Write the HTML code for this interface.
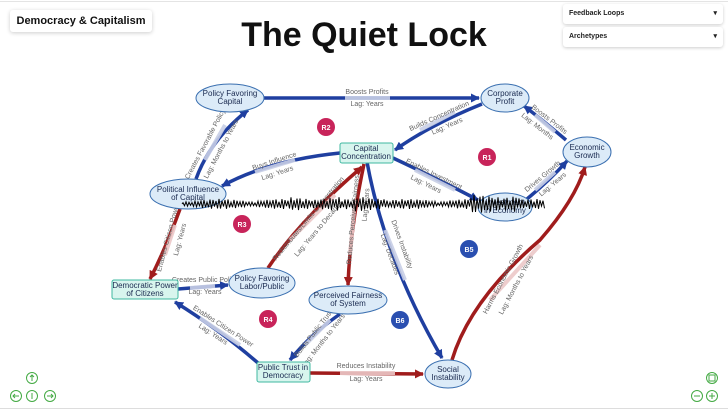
<!DOCTYPE html>
<html><head><meta charset="utf-8"><style>
body{margin:0;width:728px;height:410px;overflow:hidden;background:#fff;font-family:"Liberation Sans",sans-serif;position:relative}
.tag{position:absolute;left:10px;top:10px;width:142px;height:22px;box-shadow:0 1px 4px rgba(0,0,0,.2);border-radius:3px;font-weight:bold;font-size:11px;line-height:22px;text-align:center;color:#111;background:#fff}
.dd{position:absolute;left:563px;width:160px;height:20px;background:#fff;box-shadow:0 1px 3px rgba(0,0,0,.2);border-radius:3px;font-size:7px;font-weight:bold;line-height:20px;padding-left:6px;box-sizing:border-box;color:#222}
.dd span{position:absolute;right:6px;top:0}
h1{position:absolute;top:16px;left:0;width:728px;text-align:center;margin:0;font-size:34px;font-weight:bold;color:#111}
</style></head><body>
<div class="tag">Democracy &amp; Capitalism</div>
<div class="dd" style="top:4px">Feedback Loops<span>▾</span></div>
<div class="dd" style="top:27px">Archetypes<span>▾</span></div>
<h1>The Quiet Lock</h1>
<svg width="728" height="410" style="position:absolute;left:0;top:0" font-family="Liberation Sans, sans-serif">
<defs>
<marker id="ab" markerWidth="9" markerHeight="9" refX="8" refY="4.5" orient="auto" markerUnits="userSpaceOnUse"><path d="M0,0 L9,4.5 L0,9 Z" fill="#1f3fa0"/></marker>
<marker id="ar" markerWidth="9" markerHeight="9" refX="8" refY="4.5" orient="auto" markerUnits="userSpaceOnUse"><path d="M0,0 L9,4.5 L0,9 Z" fill="#a01c1c"/></marker>
</defs>
<line x1="0" y1="1.5" x2="728" y2="1.5" stroke="#e4e4e4"/>
<g fill="none" stroke-width="3.5">
<path d="M263,98 L479,98" stroke="#1f3fa0" marker-end="url(#ab)"/>
<path d="M482,104 Q430,125 395,150" stroke="#1f3fa0" marker-end="url(#ab)"/>
<path d="M566,140 Q540,118 524,106" stroke="#1f3fa0" marker-end="url(#ab)"/>
<path d="M340,153 Q270,160 222,186" stroke="#1f3fa0" marker-end="url(#ab)"/>
<path d="M196,179 Q210,140 248,110" stroke="#1f3fa0" marker-end="url(#ab)"/>
<path d="M393,158 Q440,180 478,200" stroke="#1f3fa0" marker-end="url(#ab)"/>
<path d="M527,199 Q550,180 567,161" stroke="#1f3fa0" marker-end="url(#ab)"/>
<path d="M367,162 Q385,260 442,358" stroke="#1f3fa0" marker-end="url(#ab)"/>
<path d="M180,209 Q165,250 150,279" stroke="#a01c1c" marker-end="url(#ar)"/>
<path d="M178,289 L228,285" stroke="#1f3fa0" marker-end="url(#ab)"/>
<path d="M268,268 Q300,220 362,167" stroke="#a01c1c" marker-end="url(#ar)"/>
<path d="M364,164 Q350,230 348,285" stroke="#a01c1c" marker-end="url(#ar)"/>
<path d="M340,314 Q310,335 290,360" stroke="#1f3fa0" marker-end="url(#ab)"/>
<path d="M258,363 Q220,330 175,302" stroke="#1f3fa0" marker-end="url(#ab)"/>
<path d="M310,373 L423,374" stroke="#a01c1c" marker-end="url(#ar)"/>
<path d="M452,360 Q470,300 540,240 Q575,200 585,167" stroke="#a01c1c" marker-end="url(#ar)"/>
</g>
<g stroke-width="4" fill="none" opacity=".9">
<path d="M345,98 L390,98" stroke="#c8cfe6"/>
<path d="M455,112 L420,130" stroke="#c8cfe6"/>
<path d="M555,132 L535,115" stroke="#c8cfe6"/>
<path d="M295,160 L255,172" stroke="#c8cfe6"/>
<path d="M205,160 L225,125" stroke="#c8cfe6"/>
<path d="M415,170 L455,190" stroke="#c8cfe6"/>
<path d="M535,190 L555,172" stroke="#c8cfe6"/>
<path d="M385,230 L405,280" stroke="#c8cfe6"/>
<path d="M175,225 L165,255" stroke="#ecc8c8"/>
<path d="M190,288 L215,286" stroke="#c8cfe6"/>
<path d="M290,240 L335,195" stroke="#ecc8c8"/>
<path d="M355,200 L350,255" stroke="#ecc8c8"/>
<path d="M330,320 L305,345" stroke="#c8cfe6"/>
<path d="M240,345 L200,318" stroke="#c8cfe6"/>
<path d="M340,373 L395,373" stroke="#ecc8c8"/>
<path d="M490,300 L540,245" stroke="#ecc8c8"/>
</g>
<g font-size="7" fill="#666" text-anchor="middle">
<text x="367" y="94">Boosts Profits</text><text x="367" y="106">Lag: Years</text>
<text x="440" y="118" transform="rotate(-24 440 118)">Builds Concentration</text><text x="448" y="128" transform="rotate(-24 448 128)">Lag: Years</text>
<text x="548" y="121" transform="rotate(38 548 121)">Boosts Profits</text><text x="536" y="128" transform="rotate(38 536 128)">Lag: Months</text>
<text x="275" y="163" transform="rotate(-18 275 163)">Buys Influence</text><text x="278" y="175" transform="rotate(-18 278 175)">Lag: Years</text>
<text x="207" y="145" transform="rotate(-62 207 145)">Creates Favorable Policy</text><text x="223" y="150" transform="rotate(-62 223 150)">Lag: Months to Years</text>
<text x="433" y="176" transform="rotate(26 433 176)">Enables Investment</text><text x="425" y="186" transform="rotate(26 425 186)">Lag: Years</text>
<text x="544" y="178" transform="rotate(-40 544 178)">Drives Growth</text><text x="554" y="186" transform="rotate(-40 554 186)">Lag: Years</text>
<text x="400" y="245" transform="rotate(70 400 245)">Drives Instability</text><text x="388" y="255" transform="rotate(70 388 255)">Lag: Decades</text>
<text x="170" y="238" transform="rotate(-75 170 238)">Enables Citizen Power</text><text x="182" y="240" transform="rotate(-75 182 240)">Lag: Years</text>
<text x="205" y="282">Creates Public Policy</text><text x="205" y="294">Lag: Years</text>
<text x="310" y="220" transform="rotate(-50 310 220)">Redistributes/Limits Concentration</text><text x="320" y="230" transform="rotate(-50 320 230)">Lag: Years to Decades</text>
<text x="355" y="220" transform="rotate(-85 355 220)">Reduces Perceived Fairness</text><text x="368" y="205" transform="rotate(-85 368 205)">Lag: Years</text>
<text x="315" y="335" transform="rotate(-52 315 335)">Builds Public Trust</text><text x="325" y="342" transform="rotate(-52 325 342)">Lag: Months to Years</text>
<text x="222" y="328" transform="rotate(33 222 328)">Enables Citizen Power</text><text x="212" y="336" transform="rotate(33 212 336)">Lag: Years</text>
<text x="366" y="368">Reduces Instability</text><text x="366" y="381">Lag: Years</text>
<text x="505" y="280" transform="rotate(-62 505 280)">Harms Economic Growth</text><text x="518" y="286" transform="rotate(-62 518 286)">Lag: Months to Years</text>
</g>
<g stroke="#3a6fb0" stroke-width="1" fill="#dcebf8">
<ellipse cx="230" cy="98" rx="34" ry="14"/>
<ellipse cx="505" cy="98" rx="24" ry="14"/>
<ellipse cx="587" cy="152" rx="24" ry="15"/>
<ellipse cx="188" cy="194" rx="38" ry="15"/>
<ellipse cx="505" cy="207" rx="27" ry="14"/>
<ellipse cx="262" cy="283" rx="33" ry="15"/>
<ellipse cx="348" cy="300" rx="39" ry="14"/>
<ellipse cx="448" cy="374" rx="23" ry="14"/>
</g>
<g stroke="#3fb8a0" stroke-width="1" fill="#d8f5ee">
<rect x="340" y="143" width="53" height="20" rx="2"/>
<rect x="112" y="280" width="66" height="19" rx="2"/>
<rect x="257" y="362" width="53" height="20" rx="2"/>
</g>
<g font-size="8" fill="#1a2a50" text-anchor="middle">
<text x="230" y="96">Policy Favoring</text><text x="230" y="104">Capital</text>
<text x="505" y="96">Corporate</text><text x="505" y="104">Profit</text>
<text x="587" y="150">Economic</text><text x="587" y="158">Growth</text>
<text x="188" y="192">Political Influence</text><text x="188" y="200">of Capital</text>
<text x="505" y="205">Investment</text><text x="505" y="213">in Economy</text>
<text x="262" y="281">Policy Favoring</text><text x="262" y="289">Labor/Public</text>
<text x="348" y="298">Perceived Fairness</text><text x="348" y="306">of System</text>
<text x="448" y="372">Social</text><text x="448" y="380">Instability</text>
<text x="366" y="151">Capital</text><text x="366" y="159">Concentration</text>
<text x="145" y="288">Democratic Power</text><text x="145" y="296">of Citizens</text>
<text x="283" y="370">Public Trust in</text><text x="283" y="378">Democracy</text>
</g>
<g font-size="7" font-weight="bold" fill="#fff" text-anchor="middle">
<circle cx="326" cy="127" r="9" fill="#c8245a"/><text x="326" y="130">R2</text>
<circle cx="487" cy="157" r="9" fill="#c8245a"/><text x="487" y="160">R1</text>
<circle cx="242" cy="224" r="9" fill="#c8245a"/><text x="242" y="227">R3</text>
<circle cx="469" cy="249" r="9" fill="#2a4fb0"/><text x="469" y="252">B5</text>
<circle cx="268" cy="319" r="9" fill="#c8245a"/><text x="268" y="322">R4</text>
<circle cx="400" cy="320" r="9" fill="#2a4fb0"/><text x="400" y="323">B6</text>
</g>
<path id="wave" stroke="#000" stroke-width="1" fill="none" d=""/>
<g fill="none" stroke="#4a4" stroke-width="1">
<circle cx="32" cy="378" r="5.5"/><circle cx="16" cy="396" r="5.5"/><circle cx="32" cy="396" r="5.5"/><circle cx="50" cy="396" r="5.5"/>
<path d="M32,375 v6 M30,377 l2,-2 2,2 M13,396 h6 M15,394 l-2,2 2,2 M47,396 h6 M51,394 l2,2 -2,2 M32,393 v6"/>
<circle cx="712" cy="378" r="5.5"/><circle cx="697" cy="396" r="5.5"/><circle cx="712" cy="396" r="5.5"/>
<path d="M709,375 h6 v6 h-6 z M694,396 h6 M709,396 h6 M712,393 v6"/>
</g>
<line x1="0" y1="408.5" x2="728" y2="408.5" stroke="#ddd"/>
</svg>
<script>
var d="M182,204",s=1;
for(var x=183;x<=545;x+=1.5){var amp=2+Math.abs(Math.sin(x*0.05))*3;if(x>290&&x<340)amp+=2;if(x>470&&x<520)amp+=4;if(x>355&&x<385)amp+=3;s=-s;d+=" L"+x+","+(204+s*amp*(0.4+0.6*Math.abs(Math.sin(x*1.7))));}
document.getElementById("wave").setAttribute("d",d);
</script>
</body></html>
